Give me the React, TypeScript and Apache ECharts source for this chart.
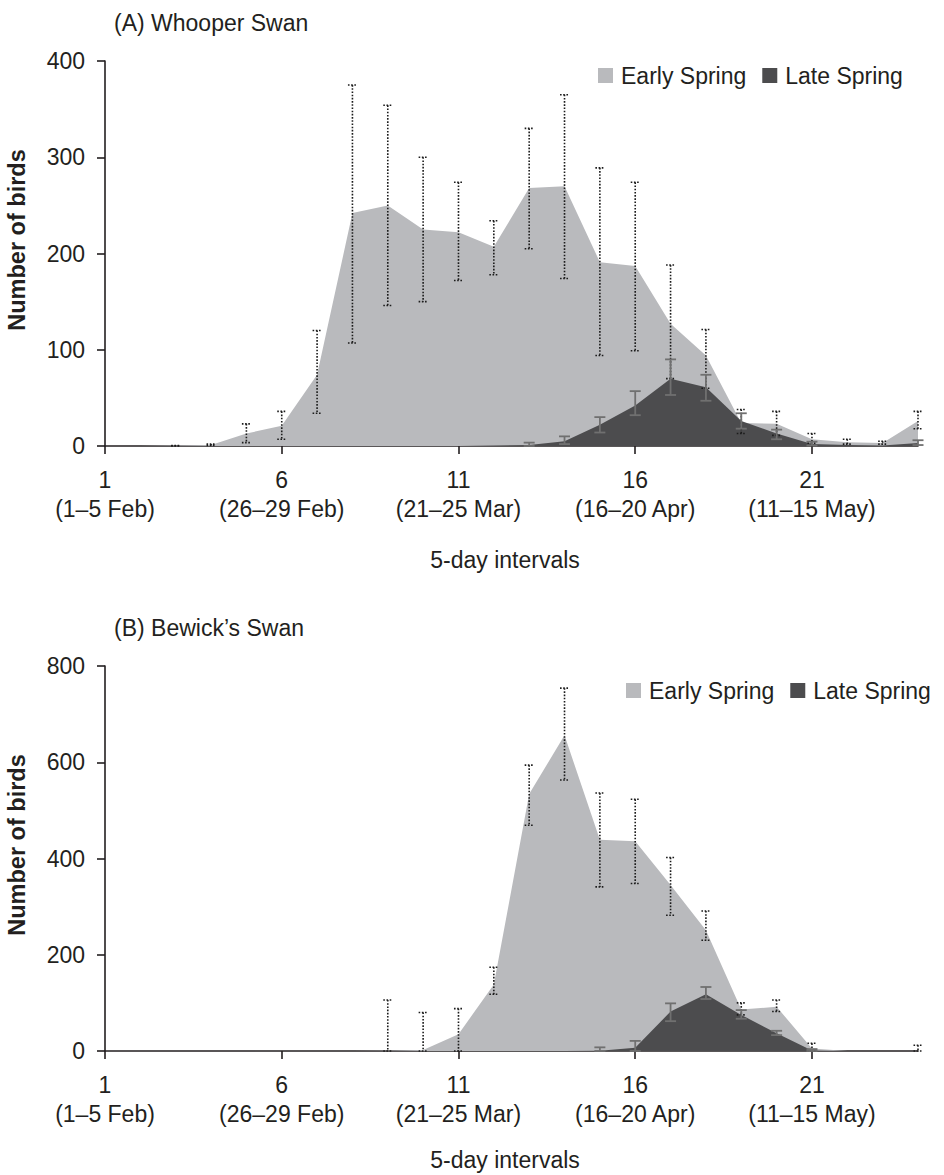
import React, { useEffect, useRef } from 'react';
import * as echarts from 'echarts';

// 5-day interval index (x axis)
const intervals = [1, 2, 3, 4, 5, 6, 7, 8, 9, 10, 11, 12, 13, 14, 15, 16, 17, 18, 19, 20, 21, 22, 23, 24];
const tickValues = [1, 6, 11, 16, 21];
const tickDates = ['(1–5 Feb)', '(26–29 Feb)', '(21–25 Mar)', '(16–20 Apr)', '(11–15 May)'];

// (A) Whooper Swan
const whooperEarly = [0, 0, 0.5, 1, 13, 21, 74, 242, 250, 225, 222, 207, 268, 270, 191, 187, 127, 94, 24, 23, 7, 4, 3, 26];
const whooperEarlyHigh = [null, null, 0.5, 2, 23, 36, 120, 375, 354, 300, 274, 234, 330, 365, 289, 274, 188, 121, 38, 36, 13, 7, 5, 36];
const whooperEarlyLow = [null, null, 0, 0.5, 3.5, 7, 34, 107, 146, 150, 172, 178, 205, 174, 94, 99, 70, 60, 13, 11, 3, 2, 2, 18];
const whooperLate = [0, 0, 0, 0, 0, 0, 0, 0, 0, 0, 0, 0.5, 1, 5, 22, 42, 70, 61, 26, 13, 2, 1, 0.5, 3];
const whooperLateHigh = [null, null, null, null, null, null, null, null, null, null, null, null, 3.5, 10, 30, 57, 90, 74, 34, 17, 4.5, null, null, 6];
const whooperLateLow = [null, null, null, null, null, null, null, null, null, null, null, null, 0, 2, 14, 32, 53, 47, 18, 7, 0.5, null, null, 1];

// (B) Bewick's Swan
const bewickEarly = [0, 0, 0, 0, 0, 0, 0, 0, 0.5, 2, 35, 138, 534, 656, 439, 436, 345, 251, 86, 92, 5, 0, 0, 0];
const bewickEarlyHigh = [null, null, null, null, null, null, null, null, 106, 80, 88, 174, 594, 754, 536, 523, 402, 291, 100, 106, 16, null, null, 12];
const bewickEarlyLow = [null, null, null, null, null, null, null, null, 0, 0, 0, 118, 469, 563, 341, 348, 282, 230, 75, 82, 0, null, null, 0];
const bewickLate = [0, 0, 0, 0, 0, 0, 0, 0, 0, 0, 0, 0, 0, 0, 0.5, 7, 82, 118, 75, 37, 1, 0, 0, 0];
const bewickLateHigh = [null, null, null, null, null, null, null, null, null, null, null, null, null, null, 7.6, 21, 99, 133, 85, 42, 4, null, null, null];
const bewickLateLow = [null, null, null, null, null, null, null, null, null, null, null, null, null, null, 0, 0, 62, 108, 67, 33, 0, null, null, null];

const LIGHT = '#b9babd';
const DARK = '#4c4c4e';
const TEXT = '#231f20';
const FONT = "'Liberation Sans', Arial, Helvetica, sans-serif";

function areaSeries(name: string, idx: number, values: number[], color: string, z: number) {
  return {
    type: 'line',
    name,
    xAxisIndex: idx,
    yAxisIndex: idx,
    data: intervals.map((x, i) => [x, values[i]]),
    symbol: 'none',
    color,
    lineStyle: { width: 0, color },
    areaStyle: { color, opacity: 1 },
    z,
    silent: true,
  };
}

function errorSeries(idx: number, lows: (number | null)[], highs: (number | null)[], kind: 'early' | 'late') {
  const data = intervals
    .map((x, i) => (highs[i] == null ? null : [x, lows[i], highs[i]]))
    .filter((d) => d !== null);
  return {
    type: 'custom',
    xAxisIndex: idx,
    yAxisIndex: idx,
    data,
    z: kind === 'early' ? 5 : 6,
    silent: true,
    encode: { x: 0, y: [1, 2] },
    renderItem: (params: any, api: any) => {
      const x = api.value(0);
      const pHi = api.coord([x, api.value(2)]);
      const pLo = api.coord([x, api.value(1)]);
      const half = kind === 'early' ? 4.5 : 5.5;
      const style =
        kind === 'early'
          ? { stroke: '#1c1c1c', lineWidth: 1.6, lineDash: [1.6, 1.6], fill: null }
          : { stroke: '#707070', lineWidth: 1.8, fill: null };
      return {
        type: 'group',
        children: [
          { type: 'line', shape: { x1: pHi[0], y1: pHi[1], x2: pLo[0], y2: pLo[1] }, style },
          { type: 'line', shape: { x1: pHi[0] - half, y1: pHi[1], x2: pHi[0] + half, y2: pHi[1] }, style },
          { type: 'line', shape: { x1: pLo[0] - half, y1: pLo[1], x2: pLo[0] + half, y2: pLo[1] }, style },
        ],
      };
    },
  };
}

function xAxisDef(idx: number) {
  return {
    type: 'value',
    gridIndex: idx,
    min: 1,
    max: 24,
    interval: 5,
    axisLine: { show: true, lineStyle: { color: TEXT, width: 1.6 } },
    axisTick: { show: true, length: 8, inside: false, customValues: tickValues, lineStyle: { color: TEXT, width: 1.6 } },
    splitLine: { show: false },
    axisLabel: {
      customValues: tickValues,
      margin: 19,
      fontSize: 23,
      lineHeight: 29,
      fontFamily: FONT,
      color: TEXT,
      formatter: (v: number) => {
        const k = tickValues.indexOf(v);
        return k >= 0 ? `${v}\n${tickDates[k]}` : '';
      },
    },
  };
}

function yAxisDef(idx: number, max: number, interval: number) {
  return {
    type: 'value',
    gridIndex: idx,
    min: 0,
    max,
    interval,
    axisLine: { show: true, lineStyle: { color: TEXT, width: 1.6 } },
    axisTick: { show: true, length: 8, inside: false, lineStyle: { color: TEXT, width: 1.6 } },
    splitLine: { show: false },
    axisLabel: { margin: 20, fontSize: 23, fontFamily: FONT, color: TEXT },
  };
}

function legendDef(left: number, top: number) {
  return {
    left,
    top,
    padding: 0,
    itemWidth: 15,
    itemHeight: 15,
    itemGap: 16,
    selectedMode: false,
    icon: 'rect',
    textStyle: { fontSize: 23, fontFamily: FONT, color: TEXT, padding: [0, 0, 0, 3] },
    data: [
      { name: 'Early Spring', icon: 'rect', itemStyle: { color: LIGHT } },
      { name: 'Late Spring', icon: 'rect', itemStyle: { color: DARK } },
    ],
  };
}

function txt(text: string, x: number, y: number, opts: any = {}) {
  return {
    type: 'text',
    x,
    y,
    rotation: opts.rotation || 0,
    silent: true,
    style: {
      text,
      fontSize: opts.size || 23,
      fontFamily: FONT,
      fontWeight: opts.bold ? 'bold' : 'normal',
      fill: TEXT,
      align: opts.align || 'left',
      verticalAlign: 'middle',
      textAlign: opts.align || 'left',
      textVerticalAlign: 'middle',
    },
  };
}

export default function App() {
  const ref = useRef<HTMLDivElement>(null);
  useEffect(() => {
    if (!ref.current) return;
    const chart = echarts.init(ref.current, null, { renderer: 'svg' });
    chart.setOption({
      animation: false,
      backgroundColor: '#ffffff',
      textStyle: { fontFamily: FONT },
      grid: [
        { left: 105, top: 61, width: 813, height: 385 },
        { left: 105, top: 666, width: 813, height: 385 },
      ],
      xAxis: [xAxisDef(0), xAxisDef(1)],
      yAxis: [yAxisDef(0, 400, 100), yAxisDef(1, 800, 200)],
      legend: [legendDef(598, 64), legendDef(626, 679)],
      graphic: [
        txt('(A) Whooper Swan', 114, 23),
        txt('(B) Bewick’s Swan', 114, 628),
        txt('Number of birds', 17, 240, { rotation: Math.PI / 2, align: 'center', bold: true, size: 23.5 }),
        txt('Number of birds', 17, 845, { rotation: Math.PI / 2, align: 'center', bold: true, size: 23.5 }),
        txt('5-day intervals', 505, 560, { align: 'center' }),
        txt('5-day intervals', 505, 1160, { align: 'center' }),
      ],
      series: [
        areaSeries('Early Spring', 0, whooperEarly, LIGHT, 2),
        areaSeries('Late Spring', 0, whooperLate, DARK, 3),
        errorSeries(0, whooperEarlyLow, whooperEarlyHigh, 'early'),
        errorSeries(0, whooperLateLow, whooperLateHigh, 'late'),
        areaSeries('Early Spring', 1, bewickEarly, LIGHT, 2),
        areaSeries('Late Spring', 1, bewickLate, DARK, 3),
        errorSeries(1, bewickEarlyLow, bewickEarlyHigh, 'early'),
        errorSeries(1, bewickLateLow, bewickLateHigh, 'late'),
      ],
    });
    return () => chart.dispose();
  }, []);
  return (
    <div
      ref={ref}
      style={{ position: 'fixed', left: 0, top: 0, width: 944, height: 1175, background: '#fff' }}
    />
  );
}
